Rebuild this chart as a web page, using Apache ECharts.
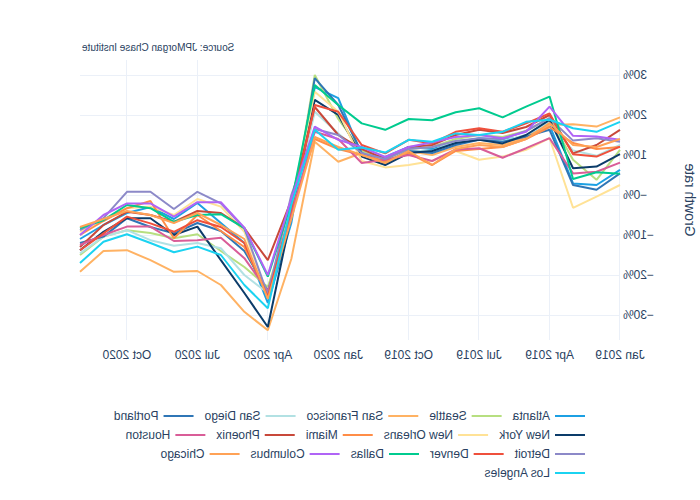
<!DOCTYPE html>
<html><head><meta charset="utf-8">
<script src="https://cdn.jsdelivr.net/npm/echarts@6/dist/echarts.min.js"></script>
<style>
html,body{margin:0;padding:0;background:#fff;}
#chart{width:700px;height:500px;transform:scaleX(-1);}
</style>
</head><body><div id="chart"></div>
<script>
// ---- data ----
const months = ["Jan 2019","Feb 2019","Mar 2019","Apr 2019","May 2019","Jun 2019","Jul 2019","Aug 2019","Sep 2019","Oct 2019","Nov 2019","Dec 2019",
                "Jan 2020","Feb 2020","Mar 2020","Apr 2020","May 2020","Jun 2020","Jul 2020","Aug 2020","Sep 2020","Oct 2020","Nov 2020","Dec 2020"];
const yTicks = [-30, -20, -10, 0, 10, 20, 30];
const yTickLabels = ["\u221230%", "\u221220%", "\u221210%", "\u22120%", "10%", "20%", "30%"];
const cities = ["Atlanta","Seattle","San Francisco","San Diego","Portland","New York","New Orleans","Miami","Phoenix","Houston","Detroit","Denver","Dallas","Columbus","Chicago","Los Angeles"];

const atlanta      = [6.3, 2.5, 2.9, 17.5, 14.6, 13.8, 14.2, 13.0, 11.5, 12.0, 9.5, 10.0, 24.2, 27.0, -7.0, -27.0, -12.0, -7.0, -2.0, -6.0, -3.0, -4.5, -7.5, -11.0];
const seattle      = [11.3, 3.8, 8.8, 19.2, 16.0, 14.5, 15.0, 14.0, 12.0, 11.5, 9.0, 11.0, 19.0, 30.0, -5.0, -23.0, -18.0, -14.0, -9.8, -10.8, -9.5, -8.8, -10.4, -15.0];
const sanFrancisco = [19.4, 17.1, 17.7, 17.5, 14.5, 12.5, 13.0, 12.0, 10.0, 11.0, 8.0, 10.5, 8.3, 13.3, -16.0, -33.8, -29.2, -22.5, -19.0, -19.2, -16.3, -13.8, -14.0, -19.2];
const sanDiego     = [12.5, 9.8, 11.1, 18.3, 15.0, 13.5, 14.0, 13.5, 11.0, 11.0, 8.5, 10.5, 15.4, 20.8, -4.5, -24.5, -20.0, -13.3, -12.0, -12.7, -11.3, -8.8, -10.4, -14.6];
const portland     = [5.4, 1.3, 2.5, 16.3, 14.6, 13.3, 13.8, 12.5, 10.5, 11.0, 8.0, 10.5, 22.5, 29.2, -6.0, -24.0, -14.0, -9.0, -7.0, -9.6, -8.0, -5.8, -10.4, -12.0];
const newYork      = [10.2, 7.1, 6.7, 18.8, 15.0, 12.9, 13.8, 13.0, 11.0, 10.5, 7.5, 9.6, 20.0, 23.8, -5.0, -33.0, -24.5, -16.3, -7.9, -10.0, -5.8, -5.8, -9.2, -13.8];
const newOrleans   = [2.5, -0.4, -3.2, 14.2, 11.3, 9.6, 8.8, 11.0, 8.5, 7.5, 6.9, 8.5, 20.8, 25.8, -2.0, -25.0, -9.2, -2.9, -1.0, -5.0, -2.9, -3.3, -6.3, -9.2];
const miami        = [12.0, 11.5, 13.0, 17.0, 14.0, 12.0, 11.5, 11.0, 7.5, 10.5, 8.5, 10.0, 11.5, 14.0, -4.0, -25.0, -13.0, -9.0, -5.0, -10.8, -1.5, -3.3, -6.5, -10.0];
const phoenix      = [16.3, 12.5, 10.4, 20.0, 17.0, 15.5, 16.3, 15.0, 12.5, 12.0, 9.0, 11.5, 15.0, 22.0, -1.3, -16.3, -8.3, -4.5, -4.0, -6.7, -5.0, -4.2, -7.5, -13.0];
const houston      = [8.1, 5.8, 5.4, 14.2, 11.7, 9.3, 11.7, 11.4, 8.5, 10.0, 8.8, 8.0, 14.0, 15.8, -5.0, -24.0, -15.8, -10.7, -11.3, -11.5, -7.9, -7.9, -10.0, -12.5];
const detroit      = [13.3, 14.2, 13.6, 19.2, 16.0, 14.0, 14.2, 13.5, 12.0, 11.5, 9.0, 10.5, 15.0, 16.5, 0.0, -25.0, -8.3, -2.1, 0.8, -3.5, 0.8, 0.8, -5.8, -8.8];
const denver       = [12.1, 9.6, 10.2, 20.4, 17.9, 15.8, 16.7, 15.8, 12.9, 13.8, 10.4, 12.5, 20.8, 22.5, -3.5, -25.5, -12.0, -8.0, -6.3, -9.2, -7.1, -5.4, -9.6, -13.8];
const dallas       = [5.3, 5.7, 4.0, 24.6, 22.1, 19.4, 21.7, 20.7, 18.7, 19.0, 16.3, 17.9, 22.5, 27.5, -2.0, -20.4, -8.3, -4.8, -5.0, -6.7, -3.3, -2.5, -6.3, -8.3];
const columbus     = [13.8, 14.6, 14.8, 22.1, 15.8, 14.2, 15.0, 14.5, 13.2, 12.0, 9.5, 12.0, 13.8, 17.1, -1.0, -20.0, -8.2, -1.8, -1.8, -5.4, -2.1, -2.1, -5.0, -10.0];
const chicago      = [14.0, 12.0, 12.5, 18.0, 14.0, 12.0, 12.5, 11.5, 7.5, 11.0, 8.0, 10.0, 12.0, 14.5, -6.0, -26.0, -11.0, -7.5, -4.5, -7.0, -5.0, -4.0, -6.0, -8.0];
const losAngeles   = [18.3, 15.8, 16.7, 18.8, 18.3, 15.8, 15.0, 15.4, 13.3, 13.8, 10.6, 11.9, 11.3, 16.3, -2.5, -28.3, -22.5, -15.0, -12.9, -14.3, -12.0, -9.8, -11.7, -17.0];

const values = [atlanta, seattle, sanFrancisco, sanDiego, portland, newYork, newOrleans, miami, phoenix, houston, detroit, denver, dallas, columbus, chicago, losAngeles];

// ---- styles ----
const colors = ["#1ca0e3","#b7df80","#ffb263","#b2e1e3","#2f76b6","#0c3c6a","#ffe296","#ff8d47","#c8483a","#d95d98","#8c89c8","#ef503c","#00cb8f","#b064f6","#ffa256","#1bd3f1"];
const font = "'Liberation Sans', Arial, sans-serif";
const txt = "#2a3f5f";
const grid = "#ebf0f8";
const legendRows = [
  ["Atlanta","Seattle","San Francisco","San Diego","Portland"],
  ["New York","New Orleans","Miami","Phoenix","Houston"],
  ["Detroit","Denver","Dallas","Columbus","Chicago"],
  ["Los Angeles"]
];
const rowCenters = [416, 435, 454, 473];

const chart = echarts.init(document.getElementById('chart'), null, {renderer: 'svg'});
chart.setOption({
  animation: false,
  backgroundColor: '#fff',
  grid: {left: 80, right: 80, top: 60, height: 280, containLabel: false, outerBoundsMode: 'none'},
  xAxis: {
    type: 'category', data: months, boundaryGap: false,
    axisLine: {show: false}, axisTick: {show: false},
    axisLabel: {interval: 2, margin: 9, fontSize: 12, color: txt, fontFamily: font},
    splitLine: {show: true, interval: 2, lineStyle: {color: grid, width: 1}}
  },
  yAxis: {
    type: 'value', min: -36.25, max: 33.75,
    name: 'Growth rate', nameLocation: 'middle', nameGap: 63, nameRotate: 90,
    nameTextStyle: {fontSize: 14, color: txt, fontFamily: font},
    axisLine: {show: false},
    axisTick: {show: false, customValues: yTicks},
    axisLabel: {customValues: yTicks, margin: 3, fontSize: 12, color: txt, fontFamily: font,
      formatter: v => yTickLabels[yTicks.indexOf(Math.round(v))]},
    splitLine: {show: true, lineStyle: {color: grid, width: 1}}
  },
  legend: legendRows.map((row, i) => ({
    data: row, orient: 'horizontal', left: 115, top: rowCenters[i] - 7,
    padding: 0, itemGap: 11, itemWidth: 30, itemHeight: 2, icon: 'rect',
    selectedMode: false,
    textStyle: {fontSize: 12, color: txt, fontFamily: font, lineHeight: 14}
  })),
  graphic: [{
    type: 'text', right: 82, top: 42,
    style: {text: 'Source: JPMorgan Chase Institute', fontSize: 10, fill: txt, fontFamily: font}
  }],
  series: cities.map((name, i) => ({
    name: name, type: 'line', data: values[i],
    color: colors[i], showSymbol: false, symbol: 'none',
    lineStyle: {width: 2, color: colors[i]},
    z: 2 + i * 0.01
  }))
});
</script></body></html>
